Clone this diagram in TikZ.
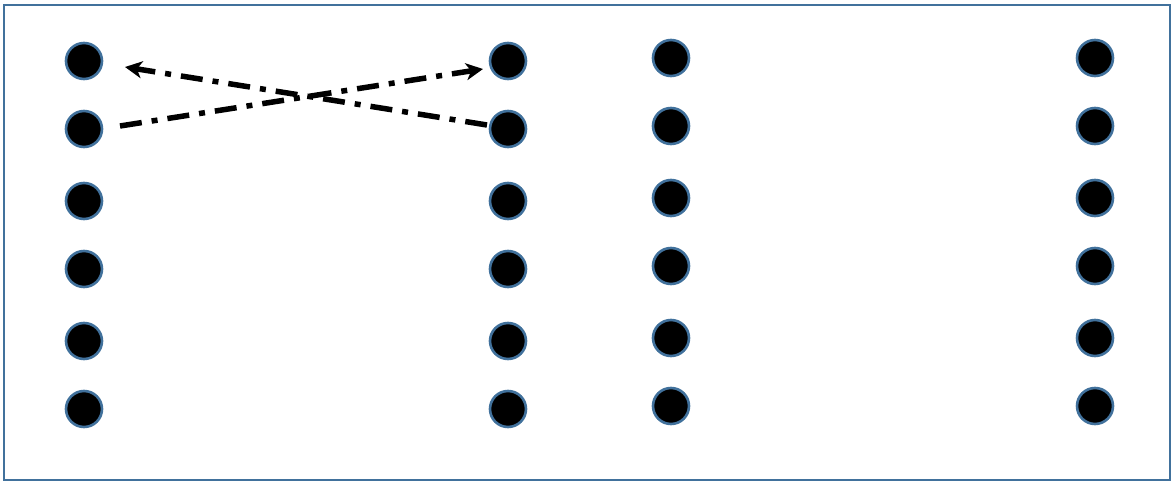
\documentclass[tikz,border=0pt]{standalone}
\usepackage{xcolor}
\usepackage{tikz}
\usetikzlibrary{arrows.meta,calc}
\definecolor{dotRim}{HTML}{41719C}
\tikzset{
  frame/.style={draw=dotRim, line width=2pt},
  dot/.style={circle, draw=dotRim, line width=2.6pt, fill=black, minimum size=36pt, inner sep=0pt},
  swap/.style={-{Stealth[length=17pt,width=17pt,inset=5pt]}, black, line width=5.5pt, dash pattern=on 22pt off 10pt on 6pt off 10pt},
}
\begin{document}
\begin{tikzpicture}[x=1pt,y=-1pt]
  \useasboundingbox (0,0) rectangle (1171,481);
  % outer frame
  \draw[frame] (4,5) rectangle (1170,480);
  % left pair of columns
  \foreach \r/\y in {1/61,2/129,3/201,4/269,5/341,6/409} {
    \node[dot] (a\r) at (84,\y) {};
    \node[dot] (b\r) at (508,\y) {};
  }
  % right pair of columns
  \foreach \r/\y in {1/58,2/126,3/198,4/266,5/338,6/406} {
    \node[dot] (c\r) at (671,\y) {};
    \node[dot] (d\r) at (1095,\y) {};
  }
  % crossing swap
  \coordinate (a1t) at (125,67);
  \coordinate (b1t) at (483,69);
  \draw[swap] ($(a2)+(36,-3)$) -- (b1t);
  \draw[swap] ($(b2)+(-21,-4)$) -- (a1t);
\end{tikzpicture}
\end{document}
